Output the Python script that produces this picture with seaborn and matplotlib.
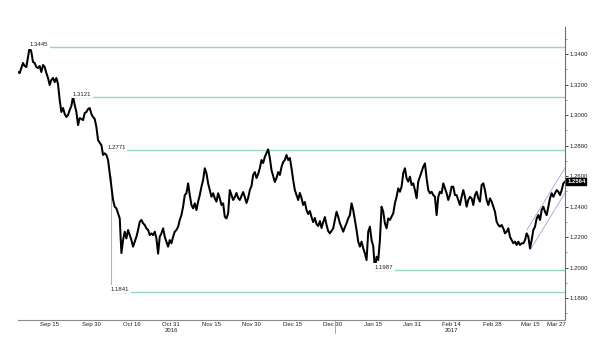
import numpy as np
import pandas as pd
import seaborn as sns
import matplotlib.pyplot as plt
import matplotlib.dates as mdates
from matplotlib.ticker import MultipleLocator, FormatStrFormatter
from matplotlib.transforms import blended_transform_factory

sns.set_theme(style="white")
plt.rcParams["font.family"] = ["Liberation Sans", "DejaVu Sans"]

# price series, one reading every 15h20m from the start
start = "2016-09-01 09:00"
step = "920min"
prices = [
    # early Sep
    1.3282, 1.3275, 1.3308, 1.3341, 1.3321, 1.3315, 1.3380, 1.3445, 1.3413, 1.3348,
    1.3341, 1.3315, 1.3308, 1.3321, 1.3282, 1.3328, 1.3315, 1.3275, 1.3243, 1.3197,
    1.3230, 1.3243, 1.3216, 1.3243, 1.3203, 1.3098, 1.3020, 1.3046, 1.3007, 1.2987,
    1.3000, 1.3033, 1.3059, 1.3121, 1.3066, 1.3020, 1.2934, 1.2980, 1.2974, 1.2967,
    1.3013, 1.3020, 1.3039, 1.3046, 1.3007, 1.2987, 1.2974, 1.2921,
    # Oct - Nov
    1.2836, 1.2818, 1.2803, 1.2738, 1.2749, 1.2738, 1.2705, 1.2620, 1.2530, 1.2443,
    1.2399, 1.2388, 1.2355, 1.2322, 1.2095, 1.2180, 1.2235, 1.2191, 1.2246, 1.2213,
    1.2180, 1.2137, 1.2170, 1.2202, 1.2246, 1.2300, 1.2312, 1.2290, 1.2279, 1.2257,
    1.2246, 1.2213, 1.2224, 1.2213, 1.2235, 1.2191, 1.2091, 1.2202, 1.2224, 1.2257,
    1.2202, 1.2170, 1.2137, 1.2180, 1.2159, 1.2202, 1.2235, 1.2246, 1.2268, 1.2312,
    1.2344, 1.2399, 1.2475, 1.2487, 1.2552, 1.2475, 1.2410, 1.2388, 1.2421, 1.2377,
    1.2432, 1.2475, 1.2530, 1.2574, 1.2651, 1.2618, 1.2552, 1.2508, 1.2464, 1.2487,
    1.2454, 1.2432, 1.2487, 1.2454, 1.2410, 1.2421, 1.2333, 1.2322, 1.2355, 1.2508,
    # late Nov - Dec
    1.2475, 1.2443, 1.2462, 1.2489, 1.2456, 1.2443, 1.2469, 1.2495, 1.2462, 1.2423,
    1.2456, 1.2508, 1.2534, 1.2607, 1.2626, 1.2587, 1.2613, 1.2652, 1.2705, 1.2685,
    1.2725, 1.2751, 1.2775, 1.2718, 1.2639, 1.2600, 1.2561, 1.2587, 1.2626, 1.2607,
    1.2659, 1.2692, 1.2705, 1.2738, 1.2705, 1.2718, 1.2652, 1.2574, 1.2508, 1.2475,
    1.2443, 1.2489, 1.2456, 1.2410, 1.2430, 1.2377, 1.2351, 1.2371, 1.2331, 1.2298,
    1.2325, 1.2285, 1.2272, 1.2305, 1.2259, 1.2298, 1.2331, 1.2279, 1.2239,
    # Jan - Mar
    1.2224, 1.2241, 1.2257, 1.2312, 1.2366, 1.2333, 1.2290, 1.2264, 1.2235, 1.2264,
    1.2290, 1.2322, 1.2344, 1.2421, 1.2377, 1.2312, 1.2246, 1.2170, 1.2137, 1.2170,
    1.2126, 1.2093, 1.2049, 1.2235, 1.2268, 1.2180, 1.2141, 1.1987, 1.2071, 1.2049,
    1.2180, 1.2399, 1.2366, 1.2290, 1.2257, 1.2322, 1.2312, 1.2333, 1.2355, 1.2421,
    1.2464, 1.2519, 1.2497, 1.2530, 1.2618, 1.2651, 1.2585, 1.2563, 1.2596, 1.2541,
    1.2552, 1.2508, 1.2454, 1.2563, 1.2596, 1.2628, 1.2661, 1.2683, 1.2585, 1.2508,
    1.2487, 1.2497, 1.2475, 1.2464, 1.2344, 1.2464, 1.2497, 1.2487, 1.2552, 1.2519,
    1.2487, 1.2443, 1.2475, 1.2530, 1.2530, 1.2475, 1.2475, 1.2443, 1.2410, 1.2464,
    1.2508, 1.2464, 1.2399, 1.2443, 1.2464, 1.2454, 1.2410, 1.2475, 1.2497, 1.2454,
    1.2432, 1.2541, 1.2552, 1.2508, 1.2443, 1.2410, 1.2454, 1.2432, 1.2399, 1.2366,
    1.2300, 1.2279, 1.2268, 1.2279, 1.2257, 1.2224, 1.2235, 1.2257, 1.2202, 1.2180,
    1.2159, 1.2170, 1.2148, 1.2170, 1.2148, 1.2159, 1.2159, 1.2180, 1.2224, 1.2202,
    1.2126, 1.2180, 1.2246, 1.2268, 1.2322, 1.2344, 1.2312, 1.2377, 1.2399, 1.2366,
    1.2344, 1.2399, 1.2454, 1.2487, 1.2464, 1.2487, 1.2508, 1.2497, 1.2475,
    1.2508, 1.2552, 1.2564,
]

# flash crash spike
crash_date = "2016-10-07 00:00"
crash_from = 1.2600
crash_low = 1.1841

# marked levels and where they start
levels = [1.3445, 1.3121, 1.2771, 1.1987, 1.1841]
level_dates = ["2016-09-05 20:00", "2016-09-22 11:00", "2016-10-05 12:00",
               "2017-01-16 03:00", "2016-10-07 00:00"]

# rising channel
chan_upper_dates = ["2017-03-15 07:00", "2017-03-29 22:00"]
chan_upper = [1.2246, 1.2652]
chan_lower_dates = ["2017-03-16 14:00", "2017-03-29 22:00"]
chan_lower = [1.2115, 1.2489]

# x axis
tick_dates = ["2016-09-06", "2016-09-21", "2016-10-08", "2016-10-22", "2016-11-07",
              "2016-11-22", "2016-12-08", "2016-12-23", "2017-01-08", "2017-01-23",
              "2017-02-07", "2017-02-22", "2017-03-10", "2017-03-23"]
tick_labels = ["Sep 15", "Sep 30", "Oct 16", "Oct 31\n2016", "Nov 15", "Nov 30", "Dec 15",
               "Dec 30", "Jan 15", "Jan 31", "Feb 14\n2017", "Feb 28", "Mar 15", "Mar 27"]
year_break = "2017-01-01"

df = pd.DataFrame({"date": pd.date_range(start, periods=len(prices), freq=step),
                   "price": prices})

fig = plt.figure(figsize=(6, 3.54), dpi=100, facecolor="w")
ax = fig.add_axes([0.03, 0.096, 0.9117, 0.8277])

level_col = "#98d6bf"
for lv, d in zip(levels, level_dates):
    d = pd.Timestamp(d)
    ax.plot([d, df["date"].iloc[-1]], [lv, lv], color=level_col, lw=1.0, zorder=1)
    ax.text(d, lv, f"{lv:.4f}", fontsize=4.3, color="#222222", ha="left", va="bottom",
            bbox=dict(boxstyle="square,pad=0.25", fc="white", ec="none"), zorder=3)

ax.vlines(pd.Timestamp(crash_date), crash_low, crash_from, color="#b4b4b4", lw=0.8, zorder=1)

sns.lineplot(data=df, x="date", y="price", color="black", lw=1.45, ax=ax, zorder=2)

ax.plot(pd.to_datetime(chan_upper_dates), chan_upper, color="#aeaedc", lw=0.7, zorder=1)
ax.plot(pd.to_datetime(chan_lower_dates), chan_lower, color="#aeaedc", lw=0.7, zorder=1)

ax.set_xlim(df["date"].iloc[0], df["date"].iloc[-1])
ax.set_ylim(1.1656, 1.3577)
ax.set_xlabel("")
ax.set_ylabel("")

# ticks: boundary marks as minor, labels centred between them
tk = pd.to_datetime(tick_dates)
bounds = list(tk) + [df["date"].iloc[-1]]
mids = [bounds[i] + (bounds[i + 1] - bounds[i]) / 2 for i in range(len(tk))]
ax.set_xticks(mids)
ax.set_xticklabels(tick_labels)
ax.set_xticks(tk, minor=True)
ax.tick_params(axis="x", which="major", length=0, pad=1.5, labelsize=4.3, colors="#222222")
ax.tick_params(axis="x", which="minor", length=3, direction="inout", color="#888888", width=0.6)

trans = blended_transform_factory(ax.transData, ax.transAxes)
yb = pd.Timestamp(year_break)
ax.plot([yb, yb], [0, -0.045], transform=trans, color="#999999", lw=0.6, clip_on=False)

ax.yaxis.tick_right()
ax.yaxis.set_major_locator(MultipleLocator(0.02))
ax.yaxis.set_minor_locator(MultipleLocator(0.01))
ax.yaxis.set_major_formatter(FormatStrFormatter("%.4f"))
ax.tick_params(axis="y", which="major", length=2, width=0.6, pad=1, labelsize=4.3,
               colors="#222222", right=True, left=False)
ax.tick_params(axis="y", which="minor", length=1.2, width=0.5, color="#666666",
               right=True, left=False)

for s in ["left", "top"]:
    ax.spines[s].set_visible(False)
ax.spines["bottom"].set_color("#8a8a8a")
ax.spines["bottom"].set_linewidth(0.8)
ax.spines["right"].set_color("#707070")
ax.spines["right"].set_linewidth(0.8)

last = prices[-1]
ax.text(1.004, last, f"{last:.4f}", transform=blended_transform_factory(ax.transAxes, ax.transData),
        fontsize=4.3, color="white", fontweight="bold", ha="left", va="center",
        bbox=dict(boxstyle="square,pad=0.15", fc="black", ec="black"), clip_on=False)

fig.savefig("out.png", dpi=100)
